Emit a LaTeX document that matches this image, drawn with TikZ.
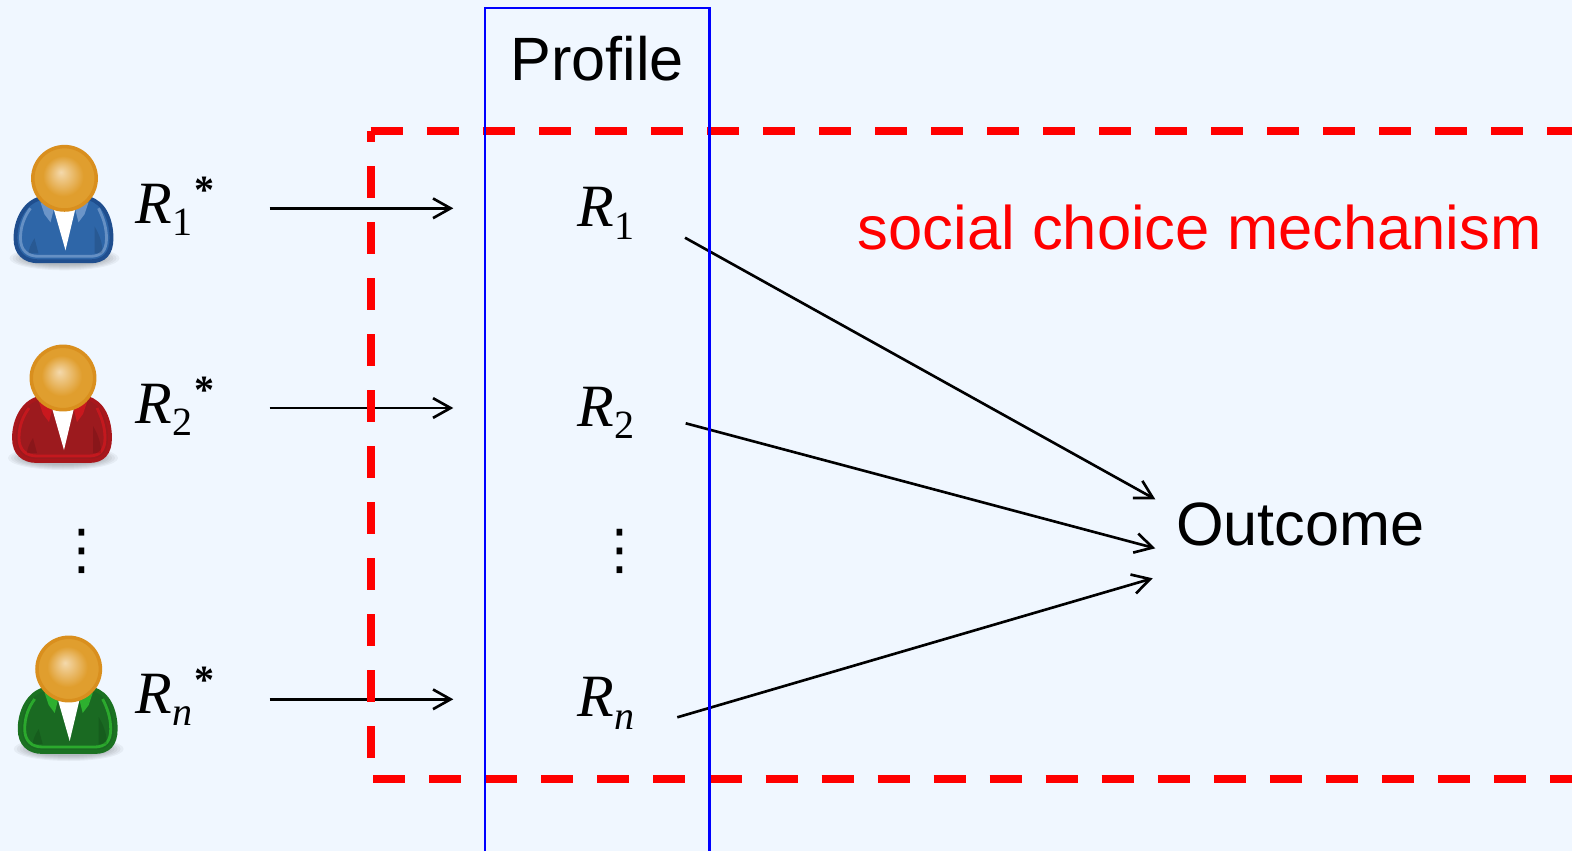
\documentclass[tikz,border=0pt]{standalone}
\usepackage{xcolor}
\usepackage{fontspec}
\setmainfont{Liberation Sans}
\newfontfamily\timesfont{Liberation Serif}
\newfontfamily\symbfont{DejaVu Sans}
\usetikzlibrary{arrows.meta}
\definecolor{PageBlue}{HTML}{F0F7FF}
\definecolor{HeadRing}{HTML}{D98F1E}
\definecolor{HeadLight}{HTML}{F4D9AC}
\definecolor{HeadDark}{HTML}{E09E2E}
\definecolor{ShirtBlue}{HTML}{2E66A8}
\definecolor{EdgeBlue}{HTML}{1F4E8E}
\definecolor{GlowBlue}{HTML}{6C95C8}
\definecolor{ShirtRed}{HTML}{9C1A1E}
\definecolor{EdgeRed}{HTML}{A8171C}
\definecolor{GlowRed}{HTML}{C9181E}
\definecolor{ShirtGreen}{HTML}{1A6A22}
\definecolor{EdgeGreen}{HTML}{1B7222}
\definecolor{GlowGreen}{HTML}{2DB02F}
\pgfdeclareradialshading{headball}{\pgfpoint{-3bp}{5bp}}{
  color(0bp)=(HeadLight); color(16bp)=(HeadDark); color(25bp)=(HeadDark)}
% one person: head centre, then shirt, edge, glow colours
\newcommand{\drawperson}[5]{
  \begin{scope}[shift={(#1,#2)}]
    \foreach \rx/\ry in {55/12, 52/11, 49/10, 46/9, 43/8, 40/7}
      \fill[black, opacity=0.045] (0,80) ellipse [x radius=\rx, y radius=\ry];
    \filldraw[fill=#3, draw=#4, line width=1.1pt]
      (-24,20) .. controls (-40,24) and (-49,42) .. (-49,60)
      .. controls (-49,75) and (-40,83) .. (-26,83) -- (26,83)
      .. controls (40,83) and (47,75) .. (47,60)
      .. controls (47,42) and (40,24) .. (24,20) -- cycle;
    \draw[#5, line width=0.8pt, opacity=0.9]
      (-34,30) .. controls (-40,38) and (-44,48) .. (-44,60)
      .. controls (-44,72) and (-37,78) .. (-26,78) -- (26,78)
      .. controls (37,78) and (42,72) .. (42,60)
      .. controls (42,48) and (38,38) .. (34,30);
    \fill[black, opacity=0.12] (30,48) .. controls (36,58) and (38,66) .. (38,75)
      -- (30,75) -- cycle;
    \fill[black, opacity=0.12] (-30,60) .. controls (-34,66) and (-36,72) .. (-36,75)
      -- (-26,75) -- cycle;
    \fill[#5] (-24,24) -- (-10,28) -- (-14,44) -- (-20,36) -- cycle;
    \fill[#5] (24,24) -- (10,28) -- (14,44) -- (20,36) -- cycle;
    \fill[white] (-11,30) -- (11,30) -- (1,72) -- cycle;
    \shade[shading=headball, draw=HeadRing, line width=1pt] (0,0) circle [radius=31.7];
  \end{scope}
}
\newcommand{\rvar}[1]{{\itshape R}\raisebox{-3.6pt}{\fontsize{11.4}{12}\selectfont #1}}
\newcommand{\rstar}[1]{\rvar{#1}\hspace{0.7pt}\raisebox{5.6pt}{\fontsize{11.4}{12}\bfseries\selectfont *}}

\begin{document}
\begin{tikzpicture}[
    x=0.01cm, y=-0.01cm,
    arr/.style={-{Straight Barb[length=5pt, width=5.6pt, line width=0.75pt]}, black, line width=0.75pt},
    mechline/.style={red, line width=2.28pt, dash pattern=on 0.32cm off 0.24cm},
    profline/.style={blue, line width=0.75pt},
    sanstext/.style={anchor=base west, inner sep=0pt, font=\fontsize{17.4}{20}\selectfont},
    rtext/.style={anchor=base west, inner sep=0pt, font=\timesfont\fontsize{17.07}{20}\selectfont},
    vdotstext/.style={inner sep=0pt, font=\symbfont\fontsize{15.6}{18}\selectfont}
  ]
  \useasboundingbox (0,0) rectangle (1572,851);
  \fill[PageBlue] (0,0) rectangle (1572,851);

  \drawperson{64.5}{178.3}{ShirtBlue}{EdgeBlue}{GlowBlue}
  \drawperson{63}{378}{ShirtRed}{EdgeRed}{GlowRed}
  \drawperson{68.7}{669}{ShirtGreen}{EdgeGreen}{GlowGreen}

  \node[rtext] (star1) at (135,223.3) {\rstar{1}};
  \node[rtext] (star2) at (135,423.3) {\rstar{2}};
  \node[rtext] (starn) at (135,713.3) {\rstar{\textit{n}}};
  \node[vdotstext] (dotsleft) at (81.5,551) {⋮};

  \node[rtext] (r1) at (576.7,226.7) {\rvar{1}};
  \node[rtext] (r2) at (576.7,426) {\rvar{2}};
  \node[rtext] (rn) at (576.7,716.7) {\rvar{\textit{n}}};
  \node[vdotstext] (dotsmid) at (619.8,551) {⋮};

  \node[sanstext] (profile) at (509.5,80) {Profile};
  \node[sanstext] (outcome) at (1175.3,545.7) {Outcome};
  \node[sanstext, red, font=\fontsize{17.5}{20}\selectfont] (mechanism) at (857,249.6) {social choice mechanism};

  \coordinate (star1out) at (269.7,208.3);
  \coordinate (star2out) at (269.7,408);
  \coordinate (starnout) at (269.7,699.3);
  \coordinate (r1in) at (453.3,208.3);
  \coordinate (r2in) at (453.3,408);
  \coordinate (rnin) at (453.3,699.3);
  \coordinate (r1out) at (685,237.7);
  \coordinate (r2out) at (685.7,423.3);
  \coordinate (rnout) at (677.3,717.3);
  \coordinate (outcome1) at (1155.3,499.3);
  \coordinate (outcome2) at (1155.3,548.3);
  \coordinate (outcome3) at (1152.7,578.3);

  \draw[arr] (star1out) -- (r1in);
  \draw[arr] (star2out) -- (r2in);
  \draw[arr] (starnout) -- (rnin);
  \draw[arr] (r1out) -- (outcome1);
  \draw[arr] (r2out) -- (outcome2);
  \draw[arr] (rnout) -- (outcome3);

  % dashed mechanism frame runs off the right edge
  \draw[mechline] (370.7,758) -- (370.7,130.7);
  \draw[mechline] (370.7,130.7) -- (1572,130.7);
  \draw[mechline] (373.3,778.7) -- (1572,778.7);
  \draw[profline] (485,851) -- (485,8) -- (709.3,8) -- (709.3,851);
\end{tikzpicture}
\end{document}
